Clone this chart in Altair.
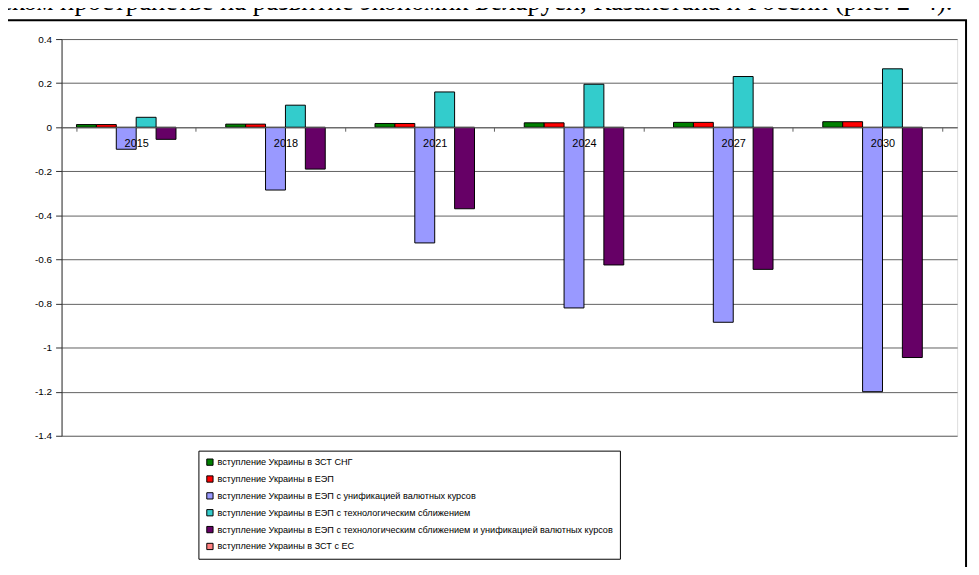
import altair as alt
import pandas as pd

years = ["2015", "2018", "2021", "2024", "2027", "2030"]
series = [
    "вступление Украины в ЗСТ СНГ",
    "вступление Украины в ЕЭП",
    "вступление Украины в ЕЭП с унификацией валютных курсов",
    "вступление Украины в ЕЭП с технологическим сближением",
    "вступление Украины в ЕЭП с технологическим сближением и унификацией валютных курсов",
    "вступление Украины в ЗСТ с ЕС",
]
colors = ["#008000", "#FF0000", "#9999FF", "#33CCCC", "#660066", "#FF8080"]

s_zst_sng = [0.012, 0.014, 0.017, 0.020, 0.022, 0.025]
s_eep = [0.012, 0.014, 0.017, 0.020, 0.022, 0.025]
s_eep_val = [-0.100, -0.285, -0.525, -0.820, -0.885, -1.200]
s_eep_tech = [0.045, 0.100, 0.160, 0.195, 0.230, 0.265]
s_eep_tech_val = [-0.055, -0.190, -0.370, -0.625, -0.645, -1.045]
s_zst_es = [0.0, 0.0, 0.0, 0.0, 0.0, 0.0]

y_ticks = [0.4, 0.2, 0.0, -0.2, -0.4, -0.6, -0.8, -1.0, -1.2, -1.4]
top_text = "ском пространстве на развитие экономик Беларуси, Казахстана и России (рис. 2–4)."

all_series = [s_zst_sng, s_eep, s_eep_val, s_eep_tech, s_eep_tech_val, s_zst_es]
rows = []
for name, vals in zip(series, all_series):
    for yr, v in zip(years, vals):
        rows.append({"year": yr, "series": name, "value": v})
df = pd.DataFrame(rows)

PLOT_W = 903
PLOT_H = 400

bars = alt.Chart(df).mark_bar(stroke="black", strokeWidth=1).encode(
    x=alt.X("year:N", sort=years,
            scale=alt.Scale(paddingInner=0.2, paddingOuter=0.1),
            axis=alt.Axis(title=None, orient="bottom", offset=-311.1, labelAngle=0,
                          tickBand="extent", tickSize=4, tickColor="#606060",
                          domainColor="#606060", labelPadding=6, labelFontSize=11,
                          labelFont="Liberation Sans", labelColor="black", grid=False,
                          zindex=1)),
    xOffset=alt.XOffset("series:N", sort=series, scale=alt.Scale(paddingInner=0)),
    y=alt.Y("value:Q",
            scale=alt.Scale(domain=[-1.4, 0.4], nice=False, zero=False),
            axis=alt.Axis(title=None, values=y_ticks,
                          labelExpr="toString(round(datum.value*10)/10)",
                          tickSize=6, tickColor="#303030", domainColor="#303030",
                          gridColor="#606060", gridWidth=1, labelPadding=4,
                          labelFontSize=10, labelFont="Liberation Sans",
                          labelColor="black")),
    color=alt.Color("series:N", sort=series,
                    scale=alt.Scale(domain=series, range=colors),
                    legend=alt.Legend(title=None, orient="none", legendX=138, legendY=415,
                                      symbolType="square", symbolSize=40,
                                      symbolStrokeColor="black", symbolStrokeWidth=1,
                                      labelFontSize=9.2, labelFont="Liberation Sans",
                                      labelColor="black", labelLimit=1000, labelOffset=3,
                                      rowPadding=6, padding=7, strokeColor="black",
                                      fillColor="white", cornerRadius=0)),
    strokeOpacity=alt.condition(alt.datum.value == 0, alt.value(0), alt.value(1)),
)

frame_df = pd.DataFrame({"k": [0]})
frame = alt.Chart(frame_df).mark_rect(fill=None, fillOpacity=0, stroke="black", strokeWidth=2).encode(
    x=alt.value(-55), x2=alt.value(912), y=alt.value(-19), y2=alt.value(600)
)

text_df = pd.DataFrame({"t": [top_text]})
header = alt.Chart(text_df).mark_text(
    align="left", baseline="alphabetic", font="Liberation Serif", fontSize=27, color="black"
).encode(x=alt.value(-62), y=alt.value(-29), text="t:N")

chart = alt.layer(frame, bars, header).properties(
    width=PLOT_W, height=PLOT_H,
    padding={"left": 54, "top": 29, "right": 14, "bottom": 130},
    autosize="none",
).configure_view(stroke="#808080", strokeWidth=1).configure(background="white")

chart.save("out.html", embed_options={"renderer": "svg", "actions": False})
